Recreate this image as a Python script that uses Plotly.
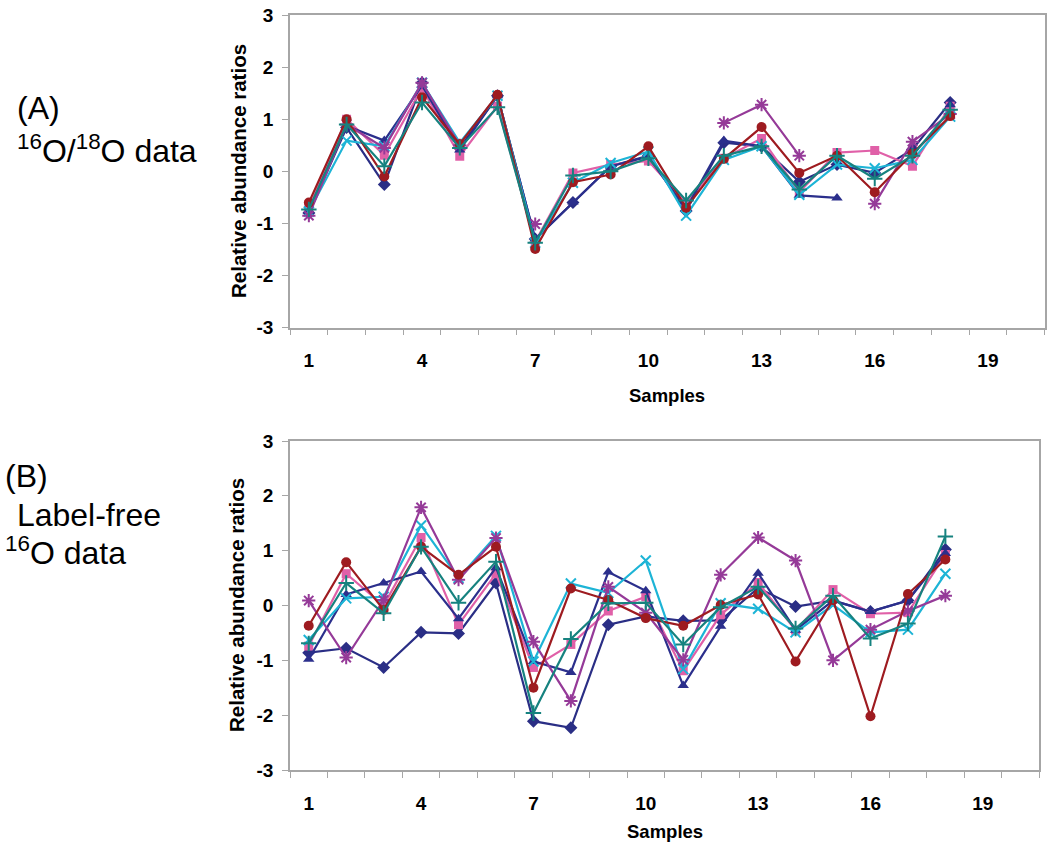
import plotly.graph_objects as go

W, H = 1050, 850
samples = list(range(1, 19))
tick_vals = [1, 4, 7, 10, 13, 16, 19]
tick_text = ["1", "4", "7", "10", "13", "16", "19"]
y_vals = [-3, -2, -1, 0, 1, 2, 3]
y_text = ["-3", "-2", "-1", "0", "1", "2", "3"]

# Panel A: 16O/18O data
a_diamond = [-0.8, 0.84, -0.25, 1.7, 0.45, 1.45, -1.3, -0.6, 0.1, 0.3, -0.76, 0.55, 0.48, -0.2, 0.13, -0.03, 0.42, 1.32]
a_square = [-0.7, 1.0, 0.31, 1.6, 0.29, 1.25, -1.35, -0.03, 0.13, 0.2, -0.6, 0.25, 0.63, -0.4, 0.36, 0.4, 0.1, 1.25]
a_triangle = [-0.75, 0.87, 0.59, 1.65, 0.41, 1.45, -1.3, -0.59, 0.1, 0.28, -0.72, 0.59, 0.48, -0.46, -0.51, None, None, 1.28]
a_x = [-0.77, 0.59, 0.48, 1.7, 0.55, 1.45, -1.37, -0.22, 0.16, 0.38, -0.85, 0.22, 0.48, -0.45, 0.13, 0.06, 0.22, 1.05]
a_star = [-0.85, 0.9, 0.45, 1.7, 0.5, None, -1.01, None, None, None, None, 0.93, 1.28, 0.3, None, -0.62, 0.57, 1.1]
a_circle = [-0.6, 1.0, -0.1, 1.42, 0.52, 1.47, -1.49, -0.21, -0.06, 0.48, -0.7, 0.24, 0.85, -0.03, 0.3, -0.4, 0.34, 1.06]
a_plus = [-0.73, 0.9, 0.1, 1.32, 0.45, 1.23, -1.37, -0.08, 0.0, 0.25, -0.56, 0.3, 0.48, -0.35, 0.3, -0.14, 0.3, 1.18]

# Panel B: label-free 16O data
b_diamond = [-0.86, -0.78, -1.13, -0.49, -0.51, 0.41, -2.11, -2.23, -0.35, -0.2, -0.28, -0.27, 0.32, -0.02, 0.09, -0.11, 0.09, 1.02]
b_square = [-0.74, 0.58, 0.0, 1.24, -0.35, 0.58, -1.13, -0.71, -0.1, 0.16, -1.19, -0.17, 0.42, -0.45, 0.29, -0.15, -0.13, 0.93]
b_triangle = [-0.98, 0.2, 0.41, 0.62, -0.24, 0.69, -1.02, -1.22, 0.61, 0.27, -1.46, -0.38, 0.59, -0.45, 0.09, -0.11, 0.09, 0.95]
b_x = [-0.63, 0.13, 0.16, 1.46, 0.5, 1.27, -1.02, 0.4, 0.23, 0.82, -1.16, 0.04, -0.06, -0.49, 0.01, -0.49, -0.44, 0.58]
b_star = [0.09, -0.95, 0.1, 1.79, 0.47, 1.23, -0.66, -1.74, 0.34, -0.13, -0.99, 0.56, 1.24, 0.82, -1.0, -0.44, -0.1, 0.18]
b_circle = [-0.37, 0.79, -0.08, 1.07, 0.56, 1.07, -1.5, 0.31, 0.1, -0.23, -0.37, 0.01, 0.2, -1.02, 0.1, -2.02, 0.21, 0.84]
b_plus = [-0.69, 0.41, -0.14, 1.07, 0.05, 0.8, -1.96, -0.61, 0.04, 0.05, -0.71, -0.03, 0.34, -0.42, 0.18, -0.6, -0.33, 1.26]

styles = [
    ("diamond", "#2A2E85", "diamond", 10, 0),
    ("square", "#E060A8", "square", 9, 0),
    ("triangle", "#2B2F8C", "triangle-up", 10, 0),
    ("x", "#1DB4D6", "x-thin-open", 10, 2),
    ("star", "#953A98", "asterisk-open", 11, 2),
    ("circle", "#9E1B20", "circle", 10, 0),
    ("plus", "#16827F", "cross-thin-open", 11, 2),
]
panel_a = [a_diamond, a_square, a_triangle, a_x, a_star, a_circle, a_plus]
panel_b = [b_diamond, b_square, b_triangle, b_x, b_star, b_circle, b_plus]

fig = go.Figure()
for (name, color, sym, size, lw), ya, yb in zip(styles, panel_a, panel_b):
    for ys, xa, yax in ((ya, "x", "y"), (yb, "x2", "y2")):
        fig.add_trace(go.Scatter(
            x=samples, y=ys, xaxis=xa, yaxis=yax, mode="lines+markers",
            line=dict(color=color, width=2.2), connectgaps=False,
            marker=dict(symbol=sym, size=size, color=color,
                        line=dict(color=color, width=lw)),
            showlegend=False, name=name))

FONT = "Liberation Sans, Arial, sans-serif"
axis_gray = "#A6A6A6"
minor_vals = [i + 0.5 for i in range(0, 21)]

def xaxis_cfg(domain, anchor):
    return dict(domain=domain, anchor=anchor, range=[0.5, 20.5],
                tickmode="array", tickvals=tick_vals, ticktext=tick_text,
                ticks="", ticklabelstandoff=15,
                tickfont=dict(family=FONT, size=19, color="black", weight="bold"),
                minor=dict(tickmode="array", tickvals=minor_vals, ticks="outside",
                           ticklen=6, tickcolor=axis_gray, tickwidth=1.2, showgrid=False),
                showgrid=False, zeroline=False, showline=True, mirror=True,
                linecolor=axis_gray, linewidth=1.5, automargin=False)

def yaxis_cfg(domain, anchor):
    return dict(domain=domain, anchor=anchor, range=[-3, 3],
                tickmode="array", tickvals=y_vals, ticktext=y_text,
                ticks="outside", ticklen=6, tickcolor=axis_gray, tickwidth=1.2,
                ticklabelstandoff=5,
                tickfont=dict(family=FONT, size=19, color="black", weight="bold"),
                showgrid=False, zeroline=False, showline=True, mirror=True,
                linecolor=axis_gray, linewidth=1.5, automargin=False)

fig.update_layout(
    width=W, height=H, margin=dict(l=0, r=0, t=0, b=0),
    paper_bgcolor="white", plot_bgcolor="white",
    xaxis=xaxis_cfg([290 / W, 1044.5 / W], "y"),
    yaxis=yaxis_cfg([1 - 327.7 / H, 1 - 15 / H], "x"),
    xaxis2=xaxis_cfg([290 / W, 1039 / W], "y2"),
    yaxis2=yaxis_cfg([1 - 770 / H, 1 - 441 / H], "x2"),
)

def ann(text, x, y, size, bold=False, angle=0, xanchor="left"):
    fig.add_annotation(text=text, x=x / W, y=1 - y / H, xref="paper", yref="paper",
                       xanchor=xanchor, yanchor="middle", showarrow=False,
                       textangle=angle,
                       font=dict(family=FONT, size=size, color="black",
                                 weight="bold" if bold else "normal"))

# axis titles
ann("Relative abundance ratios", 238, 171, 20.5, bold=True, angle=-90, xanchor="center")
ann("Relative abundance ratios", 236, 605, 20.5, bold=True, angle=-90, xanchor="center")
ann("Samples", 667, 396, 18.5, bold=True, xanchor="center")
ann("Samples", 665, 831, 18.5, bold=True, xanchor="center")

# panel labels
ann("(A)", 15, 108, 32)
ann("<sup>16</sup>O/<sup>18</sup>O data", 15, 149, 32)
ann("(B)", 3, 476, 32)
ann(" Label-free", 6, 515, 32)
ann("<sup>16</sup>O data", 3, 551, 32)

fig.write_html("out.html", config={"displayModeBar": False},
               post_script="document.body.style.margin='0px';")
